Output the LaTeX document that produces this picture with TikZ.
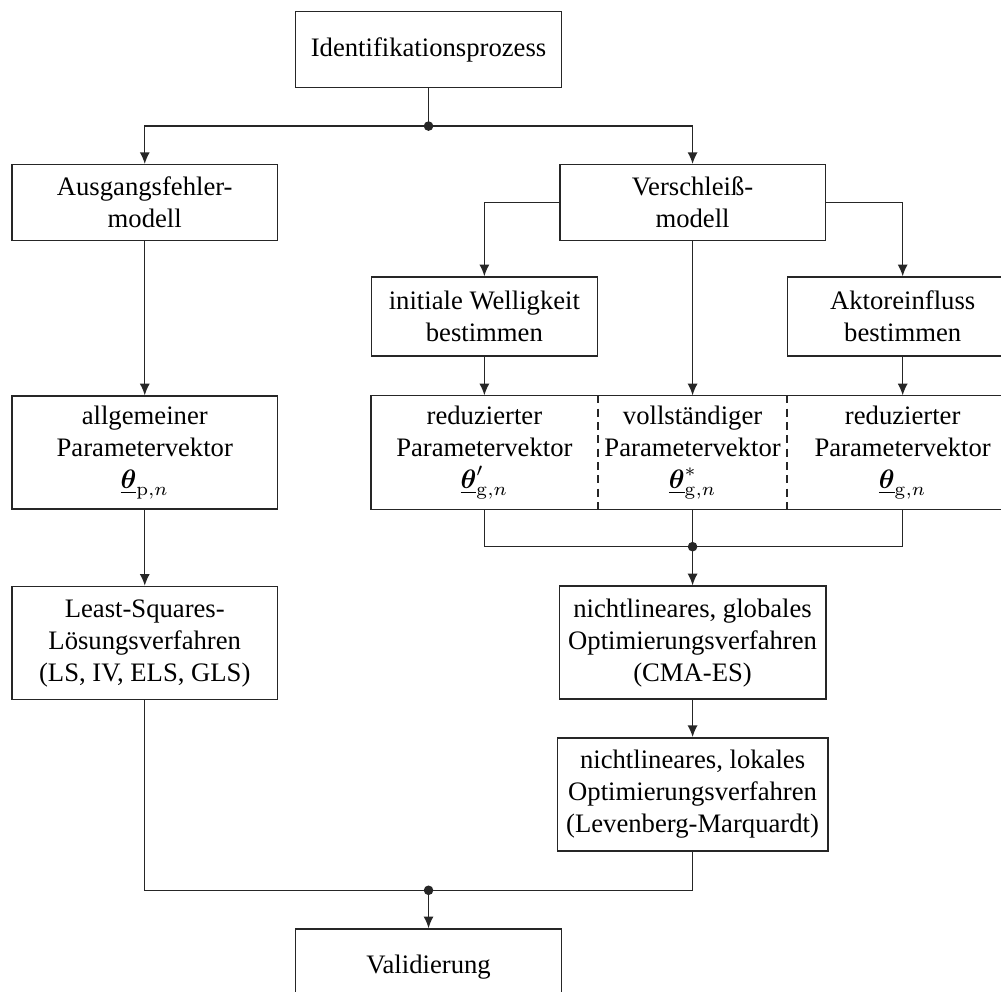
\documentclass[tikz,border=0pt]{standalone}
\usepackage{amsmath,amssymb}
\usepackage[no-math]{fontspec}
\setmainfont{Liberation Serif}
\usetikzlibrary{arrows.meta,positioning,calc}

\newcommand{\thetavec}{\underline{\boldsymbol{\theta}}}

\begin{document}
\begin{tikzpicture}[
    node distance=1cm,
    box/.style={rectangle, draw=black!85, line width=0.55pt, minimum width=3.5cm, minimum height=1cm, align=center, font=\fontsize{10}{12}\selectfont},
    tallbox/.style={box, minimum height=1.49cm},
    subbox/.style={box, minimum height=1.04cm},
    cell/.style={rectangle, minimum height=1.49cm, inner xsep=1pt, align=center, font=\fontsize{10}{12}\selectfont},
    line/.style={draw=black!85, line width=0.55pt},
    arrow/.style={line, -{Latex[length=4.4pt,width=3.8pt]}}
]
    \useasboundingbox (-5.648,0.652) rectangle (7.545,-12.422);

    % Start
    \node[box] (ident) {Identifikationsprozess};
    \coordinate[below=0.5cm of ident] (j1);

    % Two model branches
    \node[box, below=of ident, xshift=-3.74cm] (aus) {Ausgangsfehler-\\modell};
    \node[box, below=of ident, xshift=3.48cm] (versch) {Verschleiß-\\modell};

    % Parameter vectors of the wear model
    \node[cell, minimum width=2.48cm, below=2.03cm of versch] (pm) {vollständiger\\Parametervektor\\$\thetavec^{*}_{\mathrm{g},n}$};
    \node[cell, minimum width=2.98cm, left=0pt of pm] (pl) {reduzierter\\Parametervektor\\$\thetavec^{\prime}_{\mathrm{g},n}$};
    \node[cell, minimum width=3.03cm, right=0pt of pm] (pr) {reduzierter\\Parametervektor\\$\thetavec_{\mathrm{g},n}$};
    \draw[line] (pl.north west) rectangle (pr.south east);
    \draw[line, dash pattern=on 3pt off 2pt] (pm.north west) -- (pm.south west);
    \draw[line, dash pattern=on 3pt off 2pt] (pm.north east) -- (pm.south east);

    \node[subbox, minimum width=2.98cm, above=0.51cm of pl] (init) {initiale Welligkeit\\bestimmen};
    \node[subbox, minimum width=3.03cm, above=0.51cm of pr] (aktor) {Aktoreinfluss\\bestimmen};
    \coordinate[below=0.49cm of pm] (j2);

    % Output error model
    \node[tallbox, below=2.03cm of aus] (allg) {allgemeiner\\Parametervektor\\$\thetavec_{\mathrm{p},n}$};
    \node[tallbox, below=of allg] (ls) {Least-Squares-\\Lösungsverfahren\\(LS, IV, ELS, GLS)};

    % Optimisation
    \node[tallbox, below=of pm] (cma) {nichtlineares, globales\\Optimierungsverfahren\\(CMA-ES)};
    \node[tallbox, below=0.49cm of cma] (lev) {nichtlineares, lokales\\Optimierungsverfahren\\(Levenberg-Marquardt)};

    % Validation
    \coordinate (j3) at ($(ident |- lev.south)+(0,-0.51)$);
    \node[box, below=0.5cm of j3] (valid) {Validierung};

    % Arrows
    \draw[line] (ident) -- (j1);
    \draw[arrow] (j1) -| (aus);
    \draw[arrow] (j1) -| (versch);
    \draw[arrow] (versch.west) -| (init);
    \draw[arrow] (versch.east) -| (aktor);
    \draw[arrow] (versch) -- (pm);
    \draw[arrow] (init) -- (pl);
    \draw[arrow] (aktor) -- (pr);
    \draw[line] (pl.south) |- (j2) -| (pr.south);
    \draw[arrow] (pm.south) -- (cma);
    \draw[arrow] (cma) -- (lev);
    \draw[arrow] (aus) -- (allg);
    \draw[arrow] (allg) -- (ls);
    \draw[line] (ls.south) |- (j3) -| (lev.south);
    \draw[arrow] (j3) -- (valid);

    % Junction dots
    \foreach \j in {j1,j2,j3}
        \fill[black!85] (\j) circle (1.8pt);
\end{tikzpicture}
\end{document}
